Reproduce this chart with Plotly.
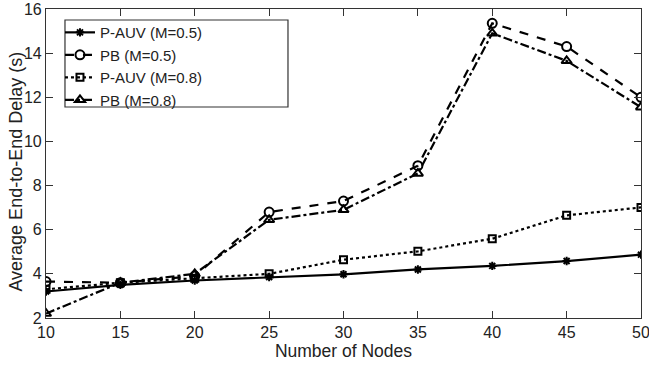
import plotly.graph_objects as go

nodes = [10, 15, 20, 25, 30, 35, 40, 45, 50]
pauv_05 = [3.2, 3.5, 3.7, 3.85, 3.98, 4.2, 4.36, 4.58, 4.87]
pb_05 = [3.65, 3.6, 3.9, 6.8, 7.3, 8.9, 15.35, 14.3, 12.0]
pauv_08 = [3.3, 3.6, 3.8, 4.0, 4.64, 5.02, 5.59, 6.65, 7.01]
pb_08 = [2.2, 3.6, 4.0, 6.45, 6.9, 8.55, 14.9, 13.65, 11.55]

x_ticks = [10, 15, 20, 25, 30, 35, 40, 45, 50]
y_ticks = [2, 4, 6, 8, 10, 12, 14, 16]

series = [
    ("P-AUV (M=0.5)", pauv_05, "solid", "asterisk-open", 7),
    ("PB (M=0.5)", pb_05, "dash", "circle-open", 9),
    ("P-AUV (M=0.8)", pauv_08, "dot", "square-open", 7),
    ("PB (M=0.8)", pb_08, "dashdot", "triangle-up-open", 9),
]

FONT = "Liberation Sans, Arial, sans-serif"

fig = go.Figure()
for name, ys, dash, sym, size in series:
    fig.add_trace(go.Scatter(
        x=nodes, y=ys, name=name, mode="lines+markers",
        line=dict(color="black", width=2.2, dash=dash),
        marker=dict(symbol=sym, size=size, color="black",
                    line=dict(color="black", width=2)),
    ))

axis_common = dict(
    showline=True, linecolor="#333", linewidth=1.2, mirror="allticks",
    ticks="inside", ticklen=7, tickcolor="#333", showgrid=False, zeroline=False,
    tickfont=dict(family=FONT, size=16, color="#222"), automargin=False,
    ticklabeloverflow="allow",
)

fig.update_layout(
    width=649, height=369,
    margin=dict(l=46, r=8, t=9, b=51),
    paper_bgcolor="white", plot_bgcolor="white",
    font=dict(family=FONT, size=16, color="#222"),
    xaxis=dict(range=[10, 50], tickvals=x_ticks,
               title=dict(text="Number of Nodes", standoff=2,
                          font=dict(size=17.5)), **axis_common),
    yaxis=dict(range=[2, 16], tickvals=y_ticks, **axis_common),
    legend=dict(x=0.0235, y=0.977, xanchor="left", yanchor="top",
                borderwidth=0, bgcolor="rgba(0,0,0,0)",
                font=dict(size=15), tracegroupgap=0, itemwidth=30),
    showlegend=True,
    shapes=[dict(type="rect", xref="paper", yref="paper",
                 x0=0.0319, x1=0.4067, y0=0.6828, y1=0.9644,
                 line=dict(color="#333", width=1.2), fillcolor="white",
                 layer="below")],
    annotations=[dict(
        text="Average End-to-End Delay (s)", textangle=-90,
        xref="paper", yref="paper", x=-0.052, y=0.474,
        xanchor="center", yanchor="middle", showarrow=False,
        font=dict(family=FONT, size=18, color="#222"),
    )],
)

fig.write_html("out.html")
